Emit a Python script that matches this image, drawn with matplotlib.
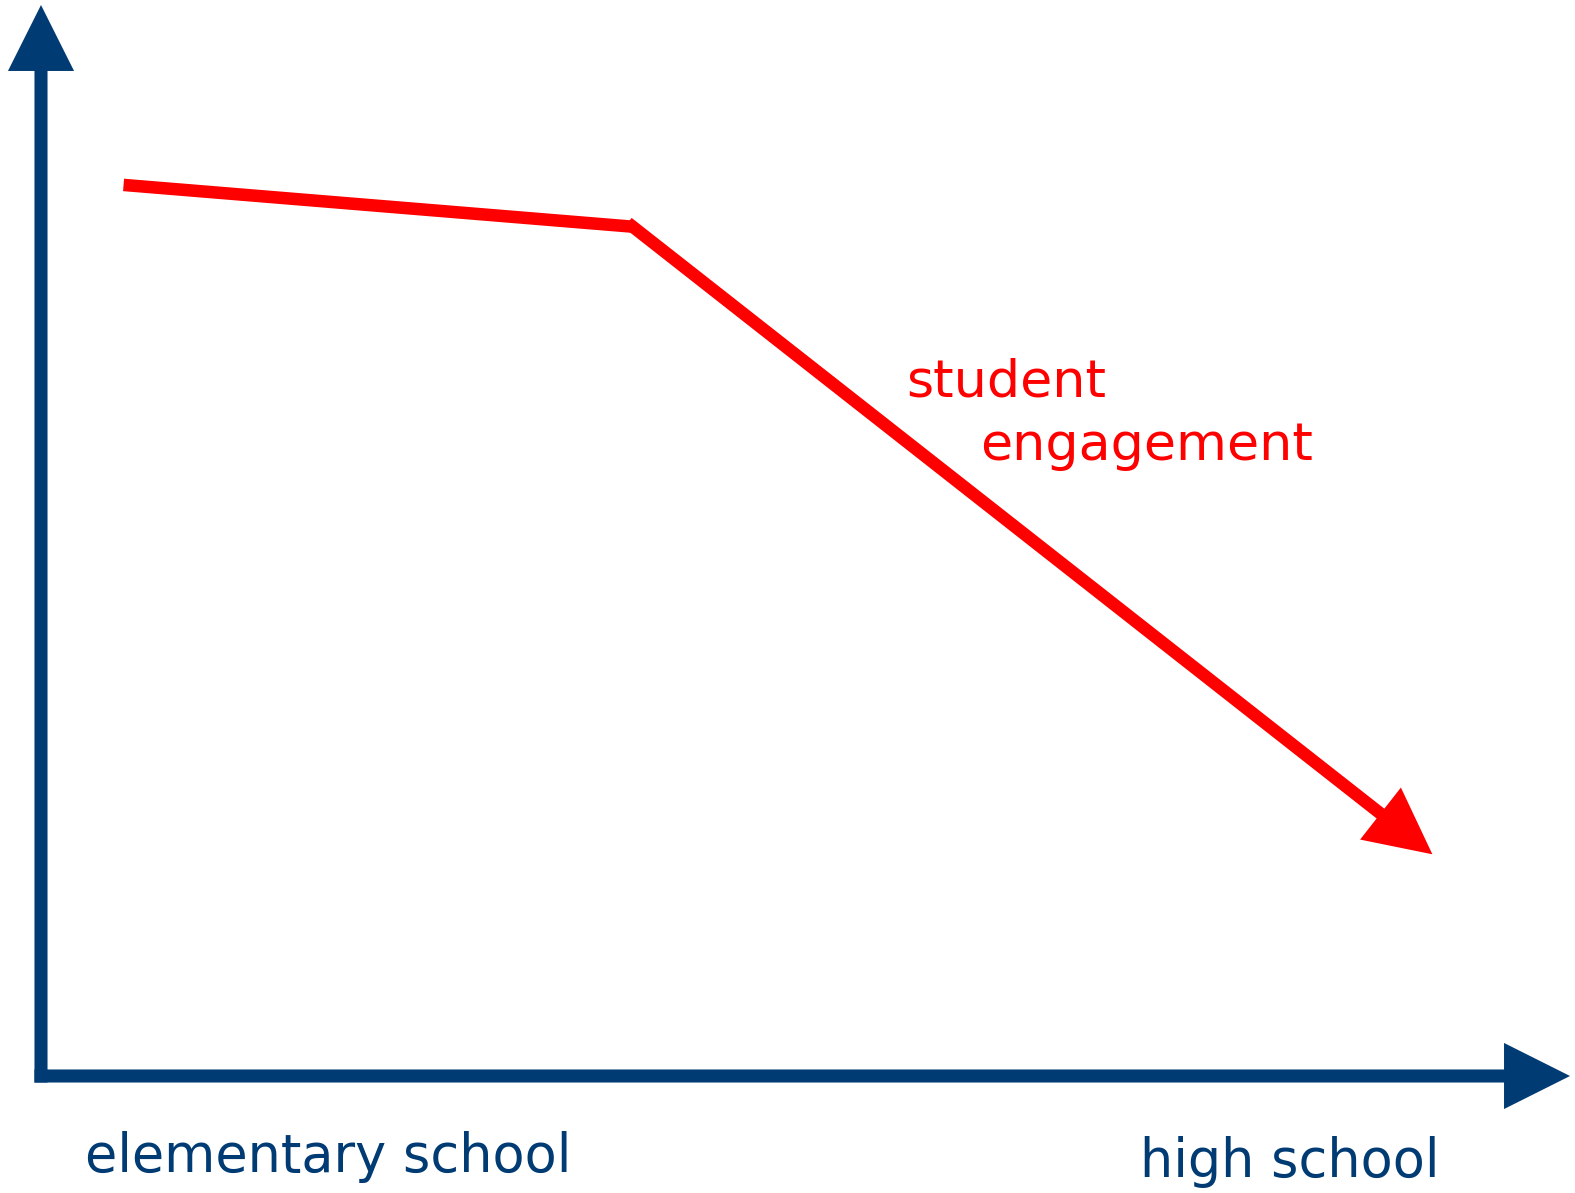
import matplotlib.pyplot as plt

# schematic scale: 0..100 on both axes, origin at the corner of the arrows
stages = [5.4, 38.7, 91.0]          # elementary -> high school
engagement = [83.2, 79.3, 20.7]     # student engagement level
stage_labels = ["elementary school", "high school"]
series_label = ["student", "engagement"]

navy = "#003B73"
red = "#FF0000"
headLen = 47.5   # points
headHalf = 23.8  # points

fig = plt.figure(figsize=(15.75, 11.93), dpi=100)
ax = fig.add_axes([41 / 1575, 117 / 1193, 1529 / 1575, 1071 / 1193])
ax.set_xlim(0, 100)
ax.set_ylim(0, 100)
ax.axis("off")


def arrow(ax, start, end, color, lw):
    # shaft, stops at the base of the head
    ax.annotate("", xy=end, xytext=start, annotation_clip=False,
                arrowprops=dict(arrowstyle="-", color=color, lw=lw,
                                shrinkA=0, shrinkB=headLen - 2,
                                capstyle="projecting"))
    # filled head only
    ax.annotate("", xy=end, xytext=start, annotation_clip=False,
                arrowprops=dict(arrowstyle=f"-|>,head_length={headLen},head_width={headHalf}",
                                mutation_scale=1, lw=0, fc=color, ec=color,
                                shrinkA=0, shrinkB=0))


# axes
arrow(ax, (0, 0), (0, 100), navy, 9.4)
arrow(ax, (0, 0), (100, 0), navy, 9.4)

# engagement line
ax.plot(stages[:2], engagement[:2], color=red, lw=9.0, solid_capstyle="butt")
arrow(ax, (stages[1], engagement[1]), (stages[2], engagement[2]), red, 9.0)

ax.text(56.6, 63.4, series_label[0], color=red, fontsize=37.6, va="baseline", ha="left")
ax.text(61.4, 57.5, series_label[1], color=red, fontsize=37.6, va="baseline", ha="left")

ax.text(2.9, -9.0, stage_labels[0], color=navy, fontsize=37.8, va="baseline", ha="left")
ax.text(71.9, -9.4, stage_labels[1], color=navy, fontsize=37.8, va="baseline", ha="left")

fig.savefig("out.png", dpi=100)
